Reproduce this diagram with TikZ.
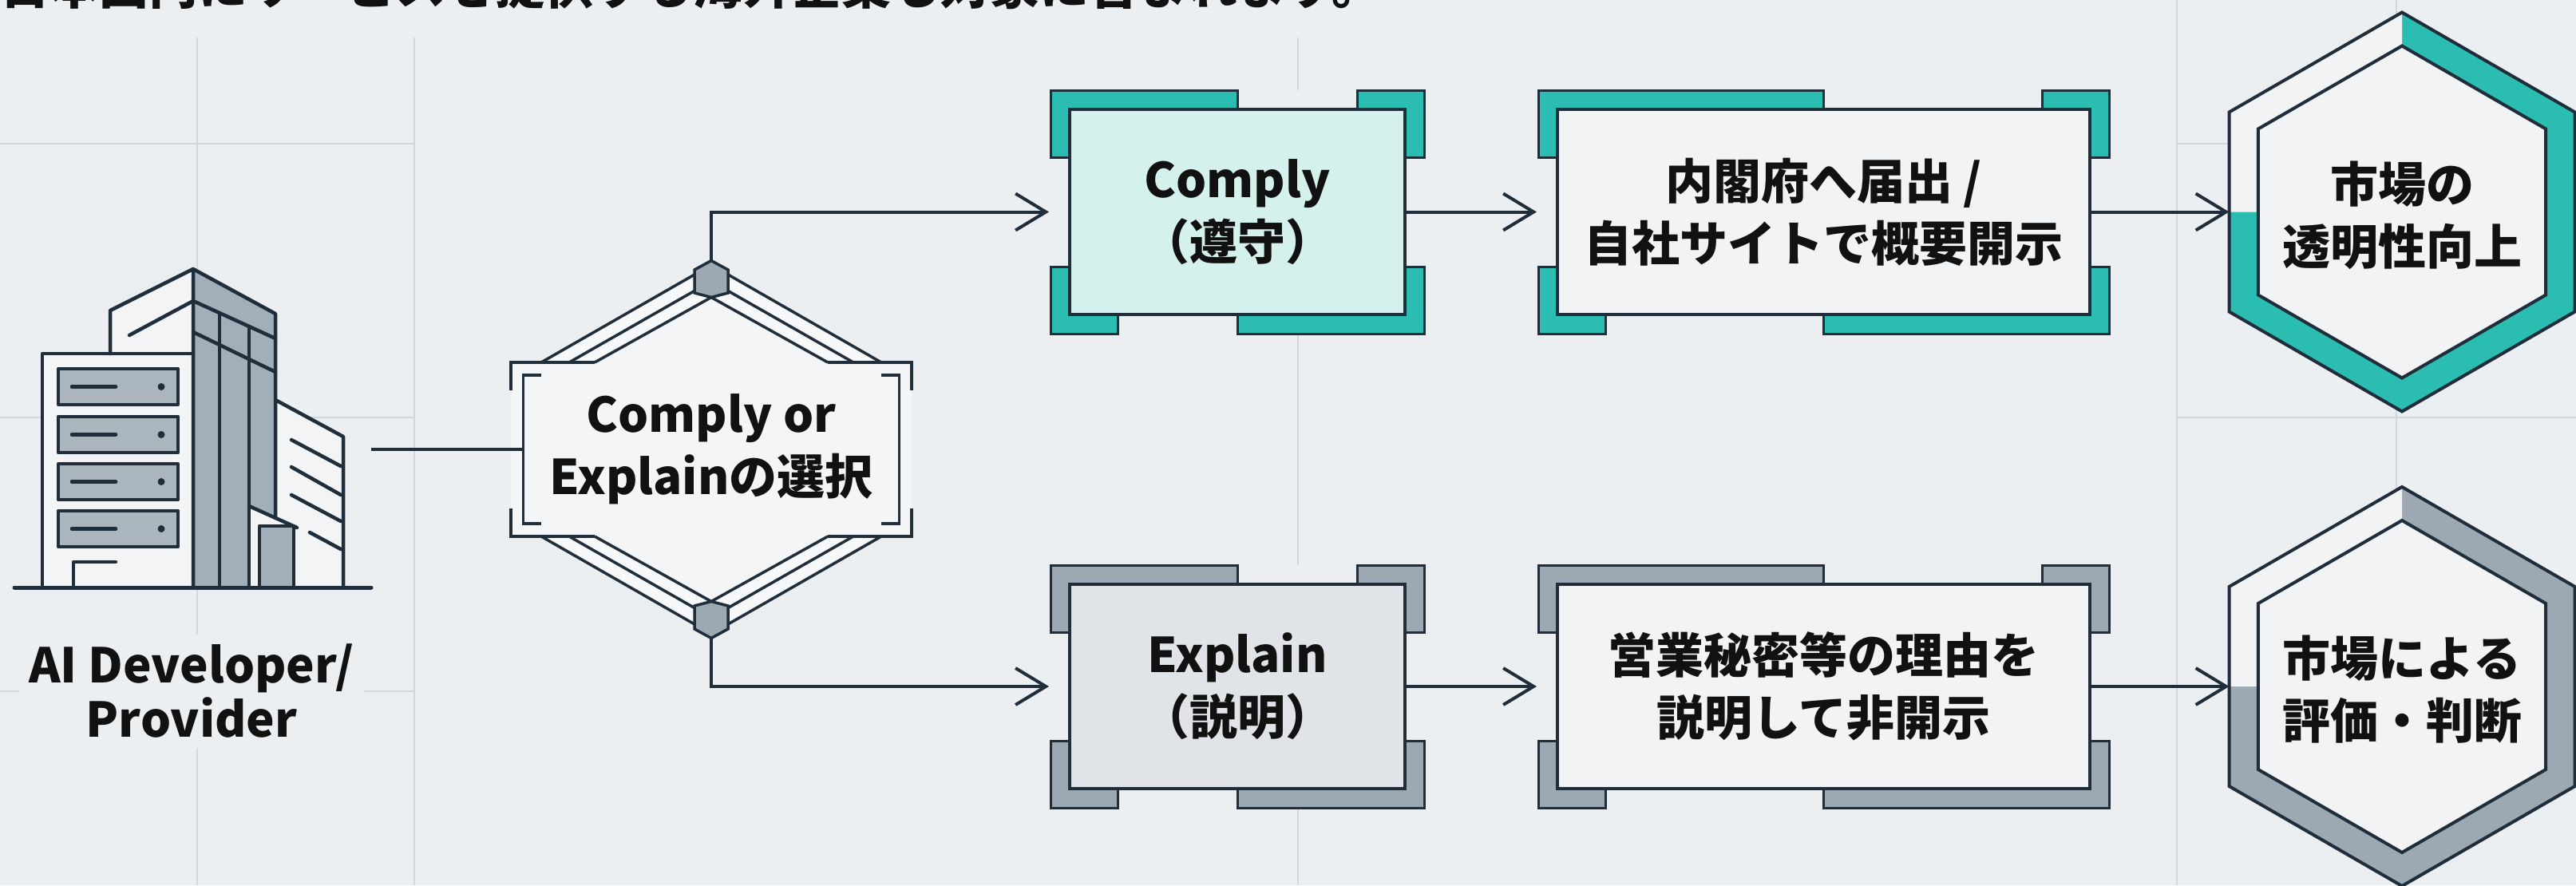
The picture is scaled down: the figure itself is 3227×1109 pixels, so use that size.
\documentclass[tikz,border=0pt]{standalone}
\usepackage{fontspec}
\setmainfont{Noto Sans CJK JP}
\usetikzlibrary{arrows.meta,calc}

\definecolor{bg}{HTML}{ECEFF2}
\definecolor{gridc}{HTML}{D3D8DE}
\definecolor{ink}{HTML}{1F2E3A}
\definecolor{textc}{HTML}{111111}
\definecolor{bandteal}{HTML}{2CBDB2}
\definecolor{bandgrey}{HTML}{9CA8B2}
\definecolor{paleteal}{HTML}{D4F1ED}
\definecolor{palegrey}{HTML}{E0E3E7}
\definecolor{paper}{HTML}{F1F3F5}
\definecolor{railc}{HTML}{F6F8FA}
\definecolor{towerc}{HTML}{A2AEB8}
\definecolor{serverc}{HTML}{AAB5BE}
\definecolor{bldlight}{HTML}{F2F4F6}

\tikzset{
  gridline/.style={draw=gridc, line width=2pt},
  conn/.style={draw=ink, line width=4pt},
  arrowconn/.style={conn, -{Straight Barb[length=38pt,width=46pt]}},
  inkline/.style={draw=ink, line width=4pt, line join=miter},
  bldline/.style={draw=ink, line width=4.5pt, line cap=round, line join=round},
  lbl/.style={font={\bfseries\fontsize{60pt}{78pt}\selectfont}, text=textc,
              align=center, inner sep=0pt},
}

% bracketed box: name, x1, y1, x2, y2, band colour, inner fill, text
\newcommand{\brbox}[8]{%
  \pgfmathsetmacro{\bbh}{(#4-#2)/2}%
  \pgfmathsetmacro{\bbw}{#4-#2-48}%
  \pgfmathsetmacro{\bbv}{#5-#3-48}%
  \fill[bg] (#2,#3) rectangle (#4,#5);
  \filldraw[fill=#6, draw=ink, line width=3pt, line join=miter]
    (#2,#3) -- ++(\bbh,0) -- ++(0,24) -- ++(24-\bbh,0) -- ++(0,60) -- ++(-24,0) -- cycle
    (#4,#3) -- ++(-84,0) -- ++(0,24) -- ++(60,0) -- ++(0,60) -- ++(24,0) -- cycle
    (#2,#5) -- ++(84,0) -- ++(0,-24) -- ++(-60,0) -- ++(0,-60) -- ++(-24,0) -- cycle
    (#4,#5) -- ++(-\bbh,0) -- ++(0,-24) -- ++(\bbh-24,0) -- ++(0,-60) -- ++(24,0) -- cycle;
  \node[lbl, fill=#7, draw=ink, line width=4pt, minimum width=\bbw pt,
        minimum height=\bbv pt] (#1) at ({(#2+#4)/2},{(#3+#5)/2}) {#8};
}

% result hexagon: name, cx, cy, band colour, text
\newcommand{\reshex}[5]{%
  \coordinate (#1) at (#2,#3);
  \coordinate (#1w) at ($(#1)+(-216.5,0)$);
  \fill[#4, even odd rule]
    ($(#1)+(270:250)$) -- ($(#1)+(210:250)$) -- ($(#1)+(150:250)$) --
    ($(#1)+(90:250)$) -- ($(#1)+(30:250)$) -- ($(#1)+(-30:250)$) -- cycle
    ($(#1)+(270:208)$) -- ($(#1)+(210:208)$) -- ($(#1)+(150:208)$) --
    ($(#1)+(90:208)$) -- ($(#1)+(30:208)$) -- ($(#1)+(-30:208)$) -- cycle;
  \fill[paper]
    ($(#1)+(270:250)$) -- ($(#1)+(210:250)$) -- (#1w) --
    ($(#1)+(-180.1,0)$) -- ($(#1)+(210:208)$) -- ($(#1)+(270:208)$) -- cycle;
  \filldraw[fill=paper, inkline]
    ($(#1)+(270:208)$) -- ($(#1)+(210:208)$) -- ($(#1)+(150:208)$) --
    ($(#1)+(90:208)$) -- ($(#1)+(30:208)$) -- ($(#1)+(-30:208)$) -- cycle;
  \draw[inkline]
    ($(#1)+(270:250)$) -- ($(#1)+(210:250)$) -- ($(#1)+(150:250)$) --
    ($(#1)+(90:250)$) -- ($(#1)+(30:250)$) -- ($(#1)+(-30:250)$) -- cycle;
  \node[lbl] (#1t) at ($(#1)+(0,4)$) {#5};
}

\begin{document}
\begin{tikzpicture}[x=1pt,y=-1pt]
\useasboundingbox (0,0) rectangle (3227,1109);
\clip (0,0) rectangle (3227,1109);
\fill[bg] (0,0) rectangle (3227,1109);

% faint background grid
\foreach \gx in {247,519,1626} \draw[gridline] (\gx,47) -- (\gx,1109);
\foreach \gx in {2727,3002} \draw[gridline] (\gx,0) -- (\gx,1109);
\foreach \gy in {180,523} {
  \draw[gridline] (0,\gy) -- (519,\gy);
  \draw[gridline] (2727,\gy) -- (3227,\gy);
}
\draw[gridline] (0,866) -- (519,866);

% heading line running off the top edge
\node[anchor=base west, inner sep=0pt, text=textc,
      font={\bfseries\fontsize{62pt}{70pt}\selectfont}] (heading) at (0,5)
  {日本国内にサービスを提供する海外企業も対象に含まれます。};

% ---------- developer building ----------
\fill[bldlight] (53,443) rectangle (242,736);
\fill[bldlight] (138,443) -- (138,389) -- (242,337) -- (242,443) -- cycle;
\fill[towerc] (242,337) -- (345,393) -- (345,649) -- (312,634) -- (312,736) -- (242,736) -- cycle;
\fill[bldlight] (345,501) -- (430,547) -- (430,736) -- (345,736) -- cycle;
\fill[bldlight] (312,634) -- (345,649) -- (345,736) -- (312,736) -- cycle;
\filldraw[fill=towerc, bldline] (325,736) -- (325,659) -- (368,659) -- (368,736);
\draw[bldline] (53,736) -- (53,443) -- (242,443);
\draw[bldline] (138,443) -- (138,389) -- (242,337);
\draw[bldline] (162,420) -- (242,377);
\draw[bldline] (242,736) -- (242,337) -- (345,393) -- (345,649);
\draw[bldline] (242,377) -- (345,424);
\draw[bldline] (242,416) -- (345,466);
\draw[bldline] (275,392) -- (275,736);
\draw[bldline] (312,409) -- (312,736);
\draw[bldline] (345,501) -- (430,547) -- (430,736);
\draw[bldline] (365,551) -- (427,584);
\draw[bldline] (365,585) -- (427,620);
\draw[bldline] (365,620) -- (427,653);
\draw[bldline] (388,667) -- (427,688);
\draw[bldline] (312,634) -- (372,661);
\foreach \sy in {462,522,581,640} {
  \filldraw[fill=serverc, bldline] (73,\sy) rectangle (223,\sy+45);
  \draw[bldline] (90,\sy+22.5) -- (145,\sy+22.5);
  \fill[ink] (202,\sy+22.5) circle (4.5);
}
\draw[bldline] (92,736) -- (92,704) -- (145,704);
\draw[ink, line width=5pt, line cap=round] (18,736) -- (465,736);
\coordinate (bldgport) at (465,563);

\node[font={\bfseries\fontsize{60pt}{68pt}\selectfont}, text=textc, align=center,
      fill=bg, inner sep=12pt] (devlabel) at (240,866) {AI Developer/\\Provider};

% ---------- decision node ----------
\fill[bg!60!white] (640,454) -- (745,454) -- (891,372.5) -- (1037,454) -- (1142,454)
  -- (1142,672) -- (1037,672) -- (891,753.5) -- (745,672) -- (640,672) -- cycle;
\fill[railc] (870,344) -- (678,454) -- (745,454) -- (891,372.5) -- cycle;
\fill[railc] (912,344) -- (1104,454) -- (1037,454) -- (891,372.5) -- cycle;
\fill[railc] (870,782) -- (678,672) -- (745,672) -- (891,753.5) -- cycle;
\fill[railc] (912,782) -- (1104,672) -- (1037,672) -- (891,753.5) -- cycle;
\begin{scope}[inkline, line width=3.5pt]
  \draw (870,344) -- (678,454);   \draw (870,364.4) -- (713,454); \draw (891,372.5) -- (745,454);
  \draw (912,344) -- (1104,454);  \draw (912,364.4) -- (1069,454); \draw (891,372.5) -- (1037,454);
  \draw (870,782) -- (678,672);   \draw (870,761.6) -- (713,672); \draw (891,753.5) -- (745,672);
  \draw (912,782) -- (1104,672);  \draw (912,761.6) -- (1069,672); \draw (891,753.5) -- (1037,672);
  \draw (745,454) -- (640,454) -- (640,489);
  \draw (1037,454) -- (1142,454) -- (1142,489);
  \draw (640,637) -- (640,672) -- (745,672);
  \draw (1142,637) -- (1142,672) -- (1037,672);
  \draw (678,470) -- (655.5,470) -- (655.5,656) -- (678,656);
  \draw (1104,470) -- (1126.5,470) -- (1126.5,656) -- (1104,656);
  \filldraw[fill=bandgrey] (891,326.5) -- (912,338) -- (912,367) -- (891,372.5) -- (870,367) -- (870,338) -- cycle;
  \filldraw[fill=bandgrey] (891,799.5) -- (912,788) -- (912,759) -- (891,753.5) -- (870,759) -- (870,788) -- cycle;
\end{scope}
\coordinate (dectop) at (891,326.5);
\coordinate (decbot) at (891,799.5);
\coordinate (decport) at (655.5,563);
\node[lbl] (dec) at (891,563) {Comply or\\Explainの選択};

% ---------- process boxes ----------
\brbox{comply}{1316}{113}{1784}{418}{bandteal}{paleteal}{Comply\\（遵守）}
\brbox{disc}{1927}{113}{2642}{418}{bandteal}{paper}{内閣府へ届出 /\\自社サイトで概要開示}
\brbox{explain}{1316}{708}{1784}{1012}{bandgrey}{palegrey}{Explain\\（説明）}
\brbox{reason}{1927}{708}{2642}{1012}{bandgrey}{paper}{営業秘密等の理由を\\説明して非開示}

% ---------- outcomes ----------
\reshex{hexA}{3009}{265.5}{bandteal}{市場の\\透明性向上}
\reshex{hexB}{3009}{860}{bandgrey}{市場による\\評価・判断}

% ---------- connectors ----------
\draw[conn] (bldgport) -- (decport);
\draw[arrowconn] (dectop) |- ([xshift=-24pt]comply.west);
\draw[arrowconn] (decbot) |- ([xshift=-24pt]explain.west);
\draw[arrowconn] (comply.east) -- ([xshift=-24pt]disc.west);
\draw[arrowconn] (explain.east) -- ([xshift=-24pt]reason.west);
\draw[arrowconn] (disc.east) -- (hexAw);
\draw[arrowconn] (reason.east) -- (hexBw);
\end{tikzpicture}
\end{document}
